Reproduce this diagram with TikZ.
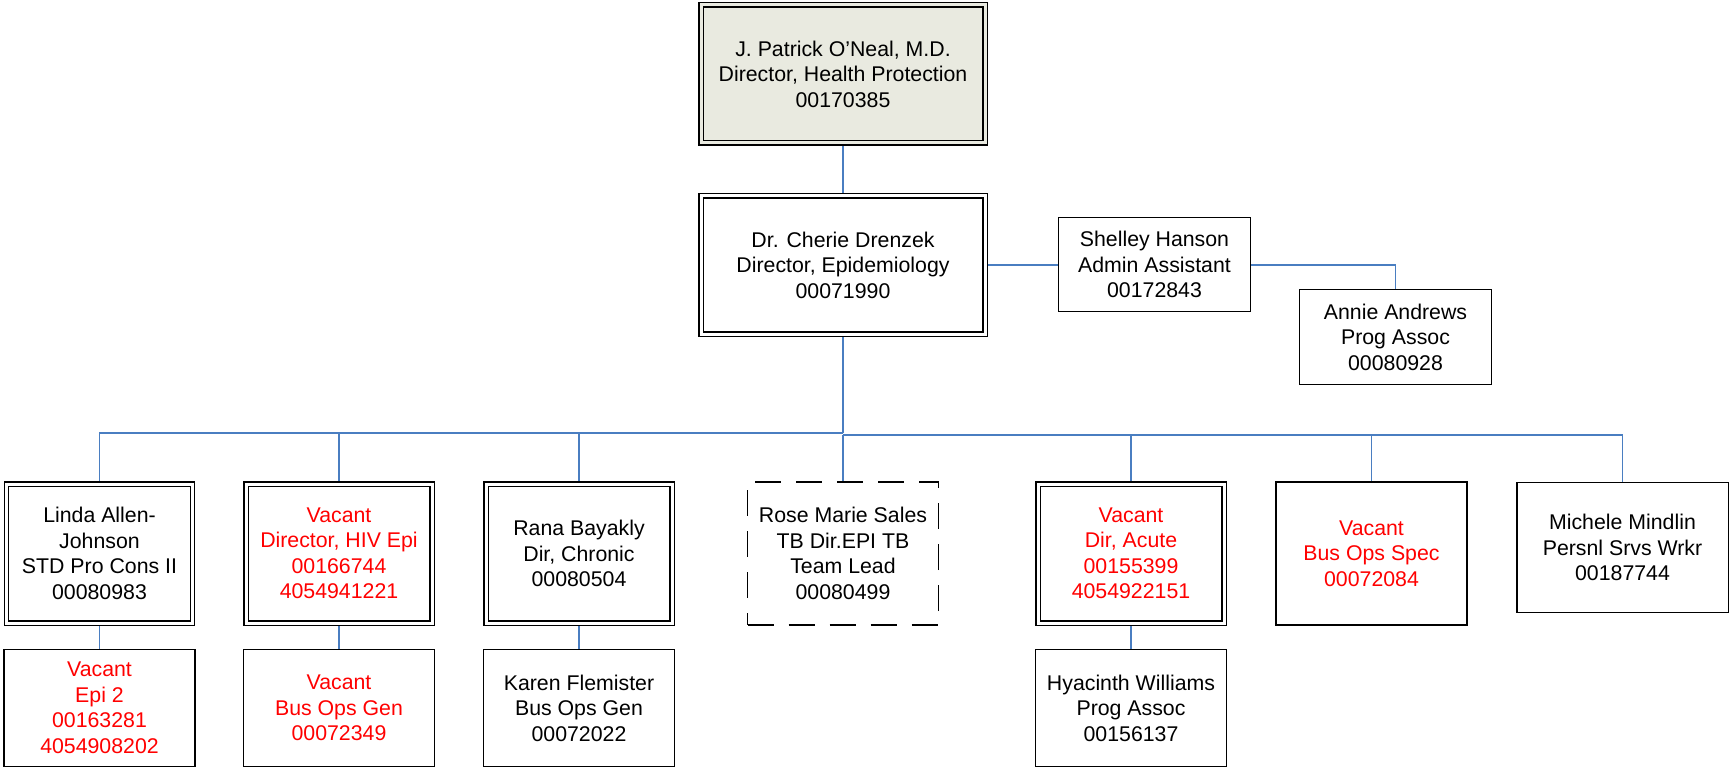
\documentclass[tikz,border=0pt]{standalone}
\usepackage{fontspec}
\setmainfont{Liberation Sans}
\usetikzlibrary{backgrounds}
\definecolor{linkblue}{RGB}{74,126,193}
\definecolor{topfill}{RGB}{233,234,224}
\definecolor{vacred}{RGB}{255,0,0}
\begin{document}
\begin{tikzpicture}[x=1pt,y=-1pt,
  box/.style={draw=black, line width=1.5pt, align=center, inner sep=0pt,
    font=\fontsize{21.3}{25.5}\selectfont, minimum width=191pt, minimum height=143pt},
  dbox/.style={box, double=white, double distance=3pt, line width=1.4pt,
    minimum width=186pt, minimum height=139pt},
  subbox/.style={box, minimum height=117pt},
  dashbox/.style={box, dash pattern=on 26pt off 15pt},
  vac/.style={text=vacred},
  link/.style={draw=linkblue, line width=1.7pt}
]
\useasboundingbox (0,0) rectangle (1731,770);

% top levels
\node[dbox, double=topfill, fill=topfill, minimum width=284pt, minimum height=138pt] (oneal) at (843,74)
  {J. Patrick O’Neal, M.D.\\Director, Health Protection\\00170385};
\node[dbox, minimum width=284pt, minimum height=138pt] (drenzek) at (843,265)
  {Dr. Cherie Drenzek\\Director, Epidemiology\\00071990};
\node[box, minimum width=192pt, minimum height=94pt] (shelley) at (1154.5,264.5)
  {Shelley Hanson\\Admin Assistant\\00172843};
\node[box, minimum width=192pt, minimum height=95pt] (annie) at (1395.5,337)
  {Annie Andrews\\Prog Assoc\\00080928};

% second level
\node[dbox] (linda) at (99.5,553.5) {Linda Allen-\\Johnson\\STD Pro Cons II\\00080983};
\node[dbox, vac] (hiv) at (339,553.5) {Vacant\\Director, HIV Epi\\00166744\\4054941221};
\node[dbox] (rana) at (579,553.5) {Rana Bayakly\\Dir, Chronic\\00080504};
\node[dashbox] (rose) at (843,553.5) {Rose Marie Sales\\TB Dir.EPI TB\\Team Lead\\00080499};
\node[dbox, vac] (acute) at (1131,553.5) {Vacant\\Dir, Acute\\00155399\\4054922151};
\node[box, vac] (busspec) at (1371.5,553.5) {Vacant\\Bus Ops Spec\\00072084};
\node[box, minimum width=211.5pt, minimum height=130pt] (michele) at (1622.5,547.5)
  {Michele Mindlin\\Persnl Srvs Wrkr\\00187744};

% third level
\node[subbox, vac] (epi2) at (99.5,708) {Vacant\\Epi 2\\00163281\\4054908202};
\node[subbox, vac] (busgen) at (339,708) {Vacant\\Bus Ops Gen\\00072349};
\node[subbox] (karen) at (579,708) {Karen Flemister\\Bus Ops Gen\\00072022};
\node[subbox] (hyacinth) at (1131,708) {Hyacinth Williams\\Prog Assoc\\00156137};

\coordinate (busL) at (843,433);
\coordinate (busR) at (843,435);

\begin{scope}[on background layer]
\draw[link] (oneal.south) -- (drenzek.north);
\draw[link] (drenzek.east) -- (drenzek.east -| shelley.west);
\draw[link] (shelley.east |- drenzek.east) -| (annie.north);
\draw[link] (drenzek.south) -- (busL);
\draw[link] (busL) -| (linda.north);
\draw[link] (busL) -| (hiv.north);
\draw[link] (busL) -| (rana.north);
\draw[link] (busR) -- (rose.north);
\draw[link] (busR) -| (acute.north);
\draw[link] (busR) -| (busspec.north);
\draw[link] (busR) -| (michele.north);
\draw[link] (linda.south) -- (epi2.north);
\draw[link] (hiv.south) -- (busgen.north);
\draw[link] (rana.south) -- (karen.north);
\draw[link] (acute.south) -- (hyacinth.north);
\end{scope}
\end{tikzpicture}
\end{document}
